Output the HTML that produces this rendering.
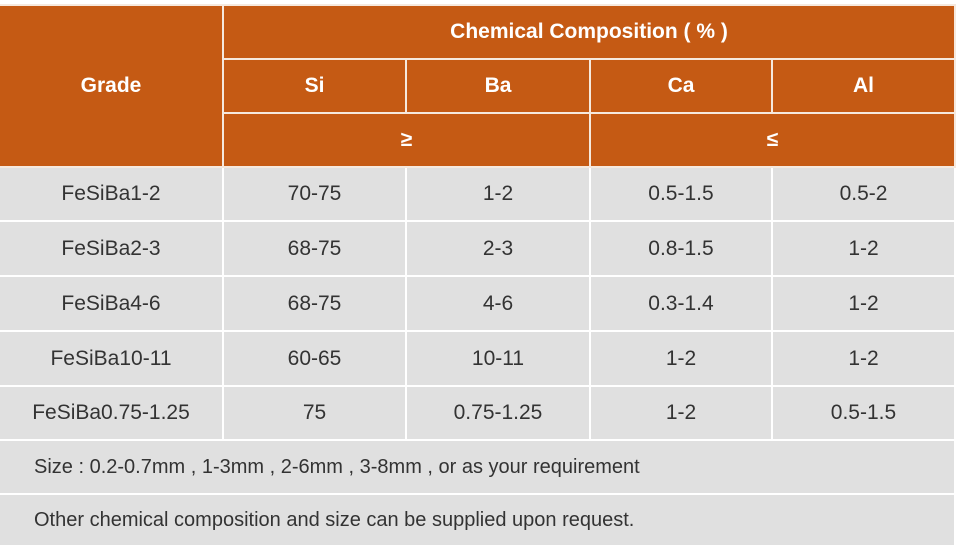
<!DOCTYPE html>
<html><head><meta charset="utf-8"><style>
body{margin:0;width:962px;height:546px;background:#fff;overflow:hidden;font-family:"Liberation Sans",sans-serif;}
table{position:absolute;left:0;top:4px;width:955px;border-collapse:collapse;table-layout:fixed;}
td,th{border:2px solid #f6e9de;text-align:center;padding:0;font-size:21px;}
th{background:#c55a14;color:#fff;font-weight:bold;font-size:21px;}
td{background:#e0e0e0;color:#333;border-color:#fff;}
tr > :first-child{border-left:none;}
td.note{text-align:left;padding-left:34px;font-size:20px;}
</style></head><body>
<table>
<colgroup><col style="width:223px"><col style="width:183px"><col style="width:184px"><col style="width:182px"><col style="width:183px"></colgroup>
<tr style="height:54px"><th rowspan="3">Grade</th><th colspan="4">Chemical Composition ( % )</th></tr>
<tr style="height:54px"><th>Si</th><th>Ba</th><th>Ca</th><th>Al</th></tr>
<tr style="height:54px"><th colspan="2">≥</th><th colspan="2">≤</th></tr>
<tr style="height:54px"><td>FeSiBa1-2</td><td>70-75</td><td>1-2</td><td>0.5-1.5</td><td>0.5-2</td></tr>
<tr style="height:55px"><td>FeSiBa2-3</td><td>68-75</td><td>2-3</td><td>0.8-1.5</td><td>1-2</td></tr>
<tr style="height:55px"><td>FeSiBa4-6</td><td>68-75</td><td>4-6</td><td>0.3-1.4</td><td>1-2</td></tr>
<tr style="height:55px"><td>FeSiBa10-11</td><td>60-65</td><td>10-11</td><td>1-2</td><td>1-2</td></tr>
<tr style="height:54px"><td>FeSiBa0.75-1.25</td><td>75</td><td>0.75-1.25</td><td>1-2</td><td>0.5-1.5</td></tr>
<tr style="height:54px"><td colspan="5" class="note">Size : 0.2-0.7mm , 1-3mm , 2-6mm , 3-8mm , or as your requirement</td></tr>
<tr style="height:52px"><td colspan="5" class="note">Other chemical composition and size can be supplied upon request.</td></tr>
</table>
</body></html>
